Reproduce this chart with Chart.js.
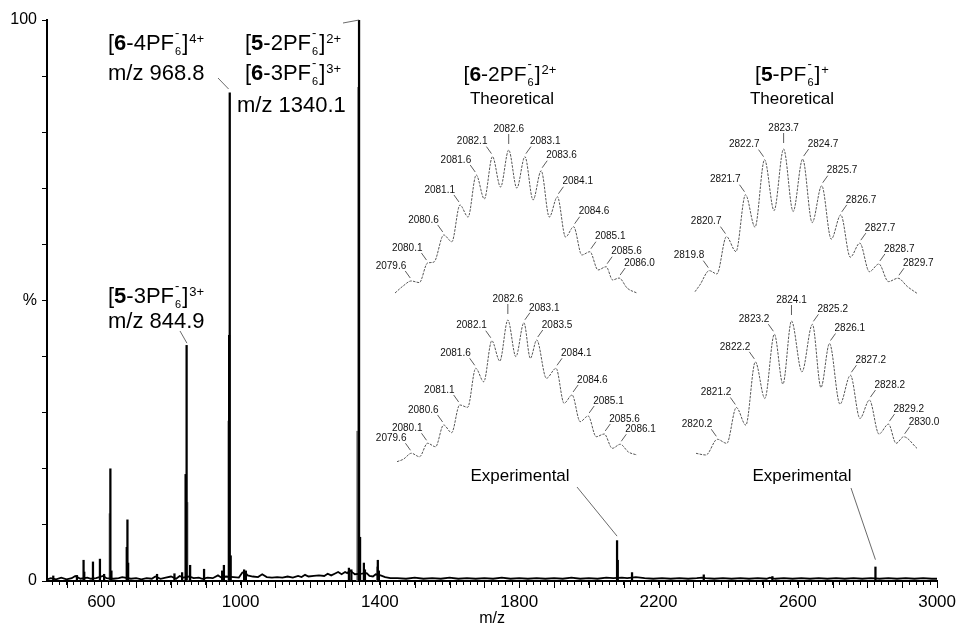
<!DOCTYPE html>
<html>
<head>
<meta charset="utf-8">
<script src="https://cdn.jsdelivr.net/npm/chart.js@4.4.1/dist/chart.umd.min.js"></script>
<style>
html, body { margin: 0; padding: 0; background: #fff; overflow: hidden; }
#wrap { position: relative; width: 963px; height: 627px; }
#wrap canvas { position: absolute; }
</style>
</head>
<body>
<div id="wrap"><canvas id="main" width="963" height="627" style="left:0;top:0"></canvas></div>
<script>
// Spectrum baseline noise [m/z, %]
const noisePts = [
  [444,0.3],[455,0.5],[470,0.3],[485,0.6],[500,0.3],[515,0.5],[525,0.9],[540,0.4],[560,0.6],[570,0.4],
  [585,0.5],[605,0.9],[615,0.5],[635,0.4],[650,0.5],[660,0.7],[685,0.4],[700,0.5],[715,0.3],[730,0.5],
  [745,0.4],[755,0.8],[770,0.4],[785,0.6],[800,0.8],[815,0.4],[825,0.9],[835,0.6],[852,0.8],[865,0.5],
  [880,0.6],[890,0.4],[905,0.6],[920,0.5],[935,1.0],[945,0.6],[958,0.8],[980,0.7],[995,0.6],[1005,1.5],
  [1012,1.6],[1020,1.0],[1035,0.8],[1050,0.7],[1062,1.2],[1075,0.7],[1090,0.6],[1105,0.7],[1120,0.6],[1135,0.8],
  [1150,0.6],[1165,0.9],[1175,0.7],[1185,1.1],[1195,0.8],[1210,0.9],[1225,1.0],[1240,0.9],[1250,1.3],[1260,1.0],
  [1270,1.3],[1280,1.6],[1290,1.2],[1300,1.6],[1306,1.4],[1314,1.9],[1322,1.5],[1328,1.2],[1348,1.3],[1362,1.4],
  [1370,0.9],[1380,0.8],[1388,1.2],[1402,1.0],[1415,0.7],[1430,0.5],[1450,0.5],[1475,0.4],[1500,0.6],[1525,0.4],
  [1550,0.5],[1575,0.4],[1600,0.6],[1625,0.4],[1650,0.5],[1675,0.4],[1700,0.5],[1725,0.4],[1750,0.6],[1775,0.4],
  [1800,0.5],[1825,0.4],[1850,0.5],[1875,0.4],[1900,0.5],[1925,0.4],[1950,0.6],[1975,0.4],[2000,0.5],[2025,0.4],
  [2050,0.6],[2070,0.5],[2095,0.6],[2110,0.5],[2135,0.7],[2160,0.5],[2185,0.4],[2210,0.5],[2235,0.4],[2260,0.5],
  [2285,0.4],[2310,0.5],[2325,0.6],[2335,0.5],[2360,0.4],[2385,0.5],[2410,0.4],[2435,0.5],[2460,0.4],[2485,0.5],
  [2510,0.4],[2520,0.6],[2535,0.4],[2560,0.5],[2585,0.4],[2610,0.5],[2635,0.4],[2660,0.5],[2685,0.4],[2710,0.5],
  [2735,0.4],[2760,0.5],[2785,0.4],[2810,0.5],[2835,0.4],[2860,0.5],[2885,0.4],[2910,0.5],[2935,0.4],[2960,0.5],
  [2985,0.4],[3000,0.4]
];

// Peak sticks (black)
const peakMz  = [462, 530, 549, 551, 576, 596, 608, 626, 629, 673, 675, 677, 760, 810, 832, 842, 844.9, 855, 895, 947, 952,
                 967, 968.8, 971.5, 1010, 1015, 1311, 1318, 1339.2, 1340.1, 1343, 1354, 1357, 1394, 1397,
                 2081, 2083, 2124, 2330, 2527, 2823];
const peakInt = [0.9, 1.0, 3.7, 1.6, 3.4, 3.9, 1.2, 20, 1.8, 6, 10.9, 3.2, 1.2, 1.3, 1.5, 19, 42, 2.8, 2.1, 1.8, 2.8,
                 43.8, 87, 4.5, 2.0, 1.8, 2.3, 2.0, 88, 100, 7.8, 3.2, 2.0, 3.7, 1.8,
                 7.2, 3.7, 1.5, 1.1, 0.8, 2.5];
// Shoulder sticks (grey)
const shoulderMz  = [624, 847, 965, 1335, 1392];
const shoulderInt = [12, 14, 28.5, 26.7, 2.5];

// Isotope patterns [m/z, relative %]
const theo6Curve = [
  [2079.1,2.7],[2079.35,7.5],[2079.6,10.9],[2079.85,9.8],[2080.1,23.1],[2080.3,23.8],[2080.6,42.2],[2080.85,37.6],
  [2081.1,62.6],[2081.35,54.4],[2081.6,83.0],[2081.85,66.7],[2082.1,95.5],[2082.35,74.8],[2082.6,100],[2082.85,74.1],
  [2083.1,95.5],[2083.35,66.0],[2083.6,85.9],[2083.85,54.4],[2084.1,68.2],[2084.35,40.8],[2084.6,47.8],[2084.85,28.6],
  [2085.1,30.8],[2085.35,18.4],[2085.6,20.6],[2085.8,11.6],[2086.0,12.9],[2086.25,6.0],[2086.55,2.7]
];
const exp6Curve = [
  [2079.15,2.3],[2079.35,4.0],[2079.6,8.1],[2079.85,5.7],[2080.1,15.0],[2080.35,12.6],[2080.6,27.6],[2080.85,22.3],
  [2081.1,41.4],[2081.35,39.8],[2081.6,66.7],[2081.85,57.4],[2082.1,85.7],[2082.35,71.7],[2082.6,100],[2082.85,74.7],
  [2083.1,98.1],[2083.3,73.6],[2083.5,86.2],[2083.8,59.8],[2084.1,66.7],[2084.35,42.6],[2084.6,48.3],[2084.85,29.9],
  [2085.1,33.8],[2085.35,19.5],[2085.6,21.4],[2085.85,11.5],[2086.1,14.3],[2086.35,9.0],[2086.62,6.9]
];
const theo5Curve = [
  [2819.05,3.6],[2819.3,8.0],[2819.8,17.8],[2820.2,15.6],[2820.7,40.8],[2821.2,30.7],[2821.7,69.1],[2822.2,47.2],
  [2822.7,92.8],[2823.2,58.4],[2823.7,100],[2824.2,57.8],[2824.7,93.2],[2825.2,50.3],[2825.7,75.2],[2826.2,39.1],
  [2826.7,55.5],[2827.2,26.9],[2827.7,36.4],[2828.2,17.1],[2828.7,22.3],[2829.2,10.4],[2829.7,12.7],[2830.2,7.0],
  [2830.7,2.5]
];
const exp5Curve = [
  [2819.08,4.8],[2819.6,3.6],[2820.2,14.9],[2820.7,12.0],[2821.2,37.8],[2821.7,25.1],[2822.2,70.6],[2822.7,44.3],
  [2823.2,90.5],[2823.65,54.6],[2824.1,100],[2824.65,63.4],[2825.2,97.6],[2825.65,52.2],[2826.1,83.8],[2826.65,40.2],
  [2827.2,61.0],[2827.7,29.9],[2828.2,43.1],[2828.7,18.7],[2829.2,25.8],[2829.6,12.0],[2830.0,16.7],[2830.7,8.4]
];

// Labelled isotope peaks
const theo6Labels = [2079.6,2080.1,2080.6,2081.1,2081.6,2082.1,2082.6,2083.1,2083.6,2084.1,2084.6,2085.1,2085.6,2086.0];
const exp6Labels  = [2079.6,2080.1,2080.6,2081.1,2081.6,2082.1,2082.6,2083.1,2083.5,2084.1,2084.6,2085.1,2085.6,2086.1];
const theo5Labels = [2819.8,2820.7,2821.7,2822.7,2823.7,2824.7,2825.7,2826.7,2827.7,2828.7,2829.7];
const exp5Labels  = [2820.2,2821.2,2822.2,2823.2,2824.1,2825.2,2826.1,2827.2,2828.2,2829.2,2830.0];

// Axis tick labels
const xTickLabels = [600, 1000, 1400, 1800, 2200, 2600, 3000];
const yTickValues = [0, 50, 100];
const yTickText   = ['0', '%', '100'];

const FAM = '"Liberation Sans", Arial, Helvetica, sans-serif';

// Draws "[6-4PF6-]4+" style formulas; parts = [text, kind, stackedSup]
function formula(ctx, parts, size, x, y, draw) {
  let cx = x;
  parts.forEach(([t, kind, extra]) => {
    if (kind === 'sub') {
      ctx.font = Math.round(size * 0.52) + 'px ' + FAM;
      const w1 = ctx.measureText(t).width;
      if (draw) ctx.fillText(t, cx + 1, y + size * 0.23);
      let w2 = 0;
      if (extra) {
        ctx.font = Math.round(size * 0.6) + 'px ' + FAM;
        w2 = ctx.measureText(extra).width;
        if (draw) ctx.fillText(extra, cx + 1, y - size * 0.6);
      }
      cx += Math.max(w1, w2) + 2;
    } else if (kind === 'sup') {
      ctx.font = Math.round(size * 0.6) + 'px ' + FAM;
      if (draw) ctx.fillText(t, cx + 1, y - size * 0.33);
      cx += ctx.measureText(t).width + 1;
    } else {
      ctx.font = (kind === 'b' ? 'bold ' : '') + size + 'px ' + FAM;
      if (draw) ctx.fillText(t, cx, y);
      cx += ctx.measureText(t).width;
    }
  });
  return cx - x;
}

function line(ctx, x1, y1, x2, y2) {
  ctx.beginPath();
  ctx.moveTo(x1, y1);
  ctx.lineTo(x2, y2);
  ctx.stroke();
}

// Labels, leader lines and long ticks on the main spectrum
const mainDecor = {
  id: 'mainDecor',
  afterDraw(chart) {
    const ctx = chart.ctx, xs = chart.scales.x, ys = chart.scales.y;
    ctx.save();
    ctx.strokeStyle = '#000';
    ctx.lineWidth = 1;
    for (let v = 500; v <= 3000; v += 100) {
      const px = Math.round(xs.getPixelForValue(v)) + 0.5;
      line(ctx, px, ys.bottom, px, ys.bottom + 7);
    }

    ctx.fillStyle = '#000';
    ctx.textBaseline = 'alphabetic';
    ctx.textAlign = 'left';
    formula(ctx, [['['], ['6', 'b'], ['-4PF'], ['6', 'sub', '-'], [']'], ['4+', 'sup']], 22, 108, 50, true);
    formula(ctx, [['['], ['5', 'b'], ['-2PF'], ['6', 'sub', '-'], [']'], ['2+', 'sup']], 22, 245, 50, true);
    formula(ctx, [['['], ['6', 'b'], ['-3PF'], ['6', 'sub', '-'], [']'], ['3+', 'sup']], 22, 245, 80, true);
    formula(ctx, [['['], ['5', 'b'], ['-3PF'], ['6', 'sub', '-'], [']'], ['3+', 'sup']], 22, 108, 303, true);
    ctx.font = '22px ' + FAM;
    ctx.fillText('m/z 968.8', 108, 80);
    ctx.fillText('m/z 1340.1', 237, 112);
    ctx.fillText('m/z 844.9', 108, 328);

    // inset titles
    const t1 = [['['], ['6', 'b'], ['-2PF'], ['6', 'sub', '-'], [']'], ['2+', 'sup']];
    const t2 = [['['], ['5', 'b'], ['-PF'], ['6', 'sub', '-'], [']'], ['+', 'sup']];
    const w1 = formula(ctx, t1, 21, 0, 0, false);
    const w2 = formula(ctx, t2, 21, 0, 0, false);
    formula(ctx, t1, 21, 510 - w1 / 2, 81, true);
    formula(ctx, t2, 21, 792 - w2 / 2, 81, true);

    ctx.font = '17px ' + FAM;
    ctx.textAlign = 'center';
    ctx.textBaseline = 'middle';
    ctx.fillText('Theoretical', 512, 99);
    ctx.fillText('Theoretical', 792, 99);
    ctx.fillText('Experimental', 520, 476);
    ctx.fillText('Experimental', 802, 476);

    // leader lines
    ctx.strokeStyle = '#444';
    ctx.lineWidth = 0.8;
    line(ctx, 218, 78, xs.getPixelForValue(965.5), ys.getPixelForValue(87.7));
    line(ctx, 180, 331, xs.getPixelForValue(845.8), ys.getPixelForValue(42.4));
    line(ctx, 343, 23, xs.getPixelForValue(1340.1), ys.getPixelForValue(100));
    line(ctx, 577, 487, xs.getPixelForValue(2081), ys.getPixelForValue(8));
    line(ctx, 851, 488, xs.getPixelForValue(2823), ys.getPixelForValue(3.8));
    ctx.restore();
  }
};

new Chart(document.getElementById('main'), {
  type: 'line',
  data: {
    datasets: [
      {
        type: 'bar',
        data: shoulderMz.map((m, i) => ({ x: m, y: shoulderInt[i] })),
        backgroundColor: '#8a8a8a',
        barThickness: 1.5,
        grouped: false,
        order: 2
      },
      {
        type: 'bar',
        data: peakMz.map((m, i) => ({ x: m, y: peakInt[i] })),
        backgroundColor: '#000',
        barThickness: 1.6,
        grouped: false,
        order: 1
      },
      {
        type: 'line',
        data: noisePts.map(([x, y]) => ({ x, y })),
        borderColor: '#000',
        borderWidth: 1.8,
        pointRadius: 0,
        order: 0
      }
    ]
  },
  options: {
    responsive: false,
    animation: false,
    devicePixelRatio: 1,
    layout: { padding: { top: 20, right: 19, left: 0, bottom: 0 } },
    plugins: { legend: { display: false }, tooltip: { enabled: false } },
    scales: {
      x: {
        type: 'linear',
        min: 444,
        max: 3000,
        offset: false,
        afterFit: s => { s.height = 46; },
        afterBuildTicks: s => {
          const t = [];
          for (let v = 460; v <= 3000; v += 20) t.push({ value: v });
          s.ticks = t;
        },
        grid: { drawOnChartArea: false, offset: false, tickLength: 4, color: '#000', lineWidth: 1 },
        border: { color: '#000', width: 2 },
        ticks: {
          autoSkip: false, maxRotation: 0, padding: 7, color: '#000',
          font: { family: FAM, size: 17 },
          callback: v => xTickLabels.includes(v) ? String(v) : ''
        },
        title: { display: true, text: 'm/z', color: '#000', font: { family: FAM, size: 16, lineHeight: 1 }, padding: 0 }
      },
      y: {
        min: 0,
        max: 100,
        afterFit: s => { s.width = 47; },
        afterBuildTicks: s => {
          const t = [];
          for (let v = 0; v <= 100; v += 10) t.push({ value: v });
          s.ticks = t;
        },
        grid: { drawOnChartArea: false, tickLength: 5, color: '#000', lineWidth: 1 },
        border: { color: '#000', width: 2 },
        ticks: {
          autoSkip: false, padding: 5, color: '#000',
          font: { family: FAM, size: 16 },
          callback: v => {
            const i = yTickValues.indexOf(v);
            return i < 0 ? '' : yTickText[i];
          }
        }
      }
    }
  },
  plugins: [mainDecor]
});

// Peak labels with short leader lines for an isotope inset
function peakLabels(curve, labels) {
  return {
    id: 'peakLabels',
    afterDatasetsDraw(chart) {
      const ctx = chart.ctx, xs = chart.scales.x, ys = chart.scales.y;
      const val = m => curve.find(p => p[0] === m)[1];
      const apex = labels.reduce((a, m) => (val(m) > val(a) ? m : a), labels[0]);
      ctx.save();
      ctx.font = '10px ' + FAM;
      ctx.fillStyle = '#111';
      ctx.strokeStyle = '#333';
      ctx.lineWidth = 0.8;
      ctx.textBaseline = 'middle';
      labels.forEach(m => {
        const px = xs.getPixelForValue(m), py = ys.getPixelForValue(val(m));
        const s = m < apex ? -1 : (m > apex ? 1 : 0);
        if (s === 0) {
          line(ctx, px, py - 16, px, py - 6);
          ctx.textAlign = 'center';
          ctx.fillText(m.toFixed(1), px, py - 21);
        } else {
          line(ctx, px + s, py - 3, px + s * 6, py - 10);
          ctx.textAlign = s < 0 ? 'right' : 'left';
          ctx.fillText(m.toFixed(1), px + s * 5, py - 15);
        }
      });
      ctx.restore();
    }
  };
}

function insetChart(curve, labels, box, xMin, xMax) {
  const pad = { left: 45, right: 45, top: 30, bottom: 10 };
  const c = document.createElement('canvas');
  c.width = box.w + pad.left + pad.right;
  c.height = box.h + pad.top + pad.bottom;
  c.style.left = (box.x - pad.left) + 'px';
  c.style.top = (box.y - pad.top) + 'px';
  document.getElementById('wrap').appendChild(c);
  new Chart(c, {
    type: 'line',
    data: {
      datasets: [{
        data: curve.map(([x, y]) => ({ x, y })),
        borderColor: '#555',
        borderWidth: 1,
        borderDash: [2.5, 1.2],
        pointRadius: 0,
        cubicInterpolationMode: 'monotone',
        clip: false
      }]
    },
    options: {
      responsive: false,
      animation: false,
      devicePixelRatio: 1,
      layout: { padding: pad },
      plugins: { legend: { display: false }, tooltip: { enabled: false } },
      scales: {
        x: { type: 'linear', display: false, min: xMin, max: xMax },
        y: { display: false, min: 0, max: 100 }
      }
    },
    plugins: [peakLabels(curve, labels)]
  });
}

insetChart(theo6Curve, theo6Labels, { x: 395, y: 150, w: 242, h: 147 }, 2079.1, 2086.55);
insetChart(exp6Curve, exp6Labels, { x: 397, y: 320, w: 240, h: 145 }, 2079.15, 2086.62);
insetChart(theo5Curve, theo5Labels, { x: 695, y: 149, w: 222, h: 148 }, 2819.05, 2830.7);
insetChart(exp5Curve, exp5Labels, { x: 696, y: 321, w: 221, h: 139 }, 2819.08, 2830.7);
</script>
</body>
</html>
